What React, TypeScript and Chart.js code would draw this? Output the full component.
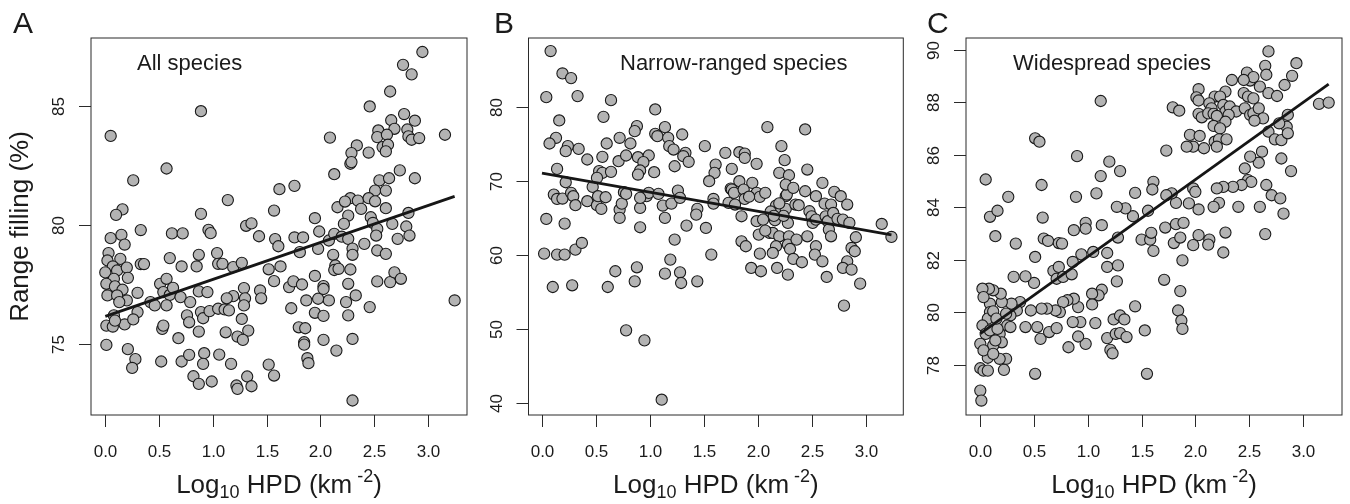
import React, { useEffect, useRef } from "react";
import { Chart, registerables } from "chart.js";

Chart.register(...registerables);

// ---------- data ----------
const xTickValues = [0, 0.5, 1, 1.5, 2, 2.5, 3];
const xTickLabels = ["0.0", "0.5", "1.0", "1.5", "2.0", "2.5", "3.0"];

const yTicksA = [75, 80, 85];
const yTicksB = [40, 50, 60, 70, 80];
const yTicksC = [78, 80, 82, 84, 86, 88, 90];

const panelTitles = ["All species", "Narrow-ranged species", "Widespread species"];
const panelLetters = ["A", "B", "C"];

// regression lines: [x, y] end points
const fitA: [number, number][] = [[0.0, 76.15], [3.25, 81.2]];
const fitB: [number, number][] = [[0.0, 71.08], [3.24, 62.73]];
const fitC: [number, number][] = [[0.0, 79.19], [3.24, 88.69]];

const allSpecies: [number, number][] = [
  [0.89,84.78],[0.05,83.74],[2.09,83.67],[0.57,82.37],[0.26,81.87],[2.13,82.13],[1.76,81.64],[1.62,81.50],[1.14,81.04],[1.57,80.60],[0.16,80.65],[0.10,80.42],[0.89,80.46],[2.16,80.74],[1.95,80.28],[1.31,79.96],[1.36,80.06],[0.33,79.78],[0.05,79.44],[0.15,79.58],[0.18,79.17],[0.62,79.64],[0.72,79.64],[0.96,79.79],[0.98,79.65],[1.43,79.52],[1.58,79.40],[1.61,79.10],[1.76,79.47],[1.84,79.47],[1.99,79.72],[1.81,78.85],[1.98,78.99],[2.08,79.34],[2.13,79.62],[2.12,78.74],[2.14,78.29],[2.13,78.10],
  [0.03,78.81],[0.02,78.50],[0.14,78.57],[0.07,78.25],[0.00,78.00],[0.11,78.08],[0.20,78.20],[0.21,77.77],[0.08,77.73],[0.01,77.52],[0.09,77.41],[0.16,77.27],[0.02,77.03],[0.11,77.03],[0.20,76.82],[0.13,76.75],[0.30,77.14],[0.08,76.19],[0.01,75.76],[0.07,75.72],[0.18,75.81],[0.09,75.97],[0.01,74.95],[0.21,74.77],[0.28,74.35],[0.25,73.98],[0.30,76.33],[0.26,76.02],[0.33,78.35],[0.36,78.35],
  [0.42,76.75],[0.46,76.61],[0.51,77.52],[0.57,77.73],[0.54,77.17],[0.60,77.05],[0.63,77.35],[0.57,76.61],[0.60,78.60],[0.71,78.25],[0.70,76.96],[0.79,76.75],[0.85,78.25],[0.87,78.74],[0.87,77.20],[0.95,77.17],[0.89,76.33],[0.91,76.07],[0.76,76.19],[0.78,75.90],[0.68,75.23],[0.53,75.62],[0.54,75.76],[0.87,75.51],[0.52,74.25],[0.71,74.25],[0.78,74.53],[0.92,74.60],[0.91,74.15],[0.82,73.63],[0.87,73.31],[0.99,73.41],[1.06,74.54],[1.17,74.15],
  [1.04,78.81],[1.05,78.36],[1.09,78.36],[1.19,78.22],[1.27,78.40],[0.97,76.37],[1.05,76.47],[1.11,76.44],[1.15,76.40],[1.19,77.00],[1.29,77.34],[1.30,76.91],[1.29,76.61],[1.13,76.91],[1.27,76.04],[1.33,75.55],[1.12,75.48],[1.23,75.30],[1.28,75.16],[1.22,73.24],[1.23,73.10],[1.32,73.62],[1.36,73.21],[1.44,77.24],[1.45,76.91],[1.52,78.13],[1.57,77.63],[1.63,78.25],[1.52,74.12],[1.57,73.66],
  [1.71,77.38],[1.75,77.62],[1.83,77.49],[1.73,76.49],[1.87,76.82],[1.98,76.89],[1.95,77.85],[2.03,77.42],[2.03,77.30],[1.95,76.30],[2.03,76.17],[2.08,76.82],[1.80,75.69],[1.86,75.65],[1.85,75.06],[1.85,74.96],[1.88,74.39],[1.89,74.18],[2.03,75.16],[2.15,74.71],
  [2.95,87.27],[2.77,86.73],[2.85,86.33],[2.65,85.61],[2.46,84.98],[2.78,84.66],[2.66,84.40],[2.88,84.38],[2.54,83.97],[2.69,84.04],[2.81,84.01],[2.53,83.69],[2.62,83.79],[2.82,83.72],[2.85,83.58],[2.92,83.65],[3.16,83.79],[2.34,83.34],[2.29,83.02],[2.45,83.04],[2.58,83.27],[2.63,83.37],[2.61,83.09],[2.28,82.57],[2.29,82.64],[2.55,81.87],[2.64,81.96],[2.74,82.29],[2.88,81.96],[2.51,81.44],[2.61,81.44],[2.28,81.12],[2.23,80.98],[2.35,81.02],[2.45,81.12],[2.51,80.99],[2.38,80.67],
  [2.26,80.39],[2.47,80.32],[2.61,80.70],[2.82,80.50],[2.22,80.04],[2.49,80.08],[2.53,79.83],[2.67,80.04],[2.80,79.93],[2.52,79.55],[2.83,79.55],[2.72,79.41],[2.20,79.50],[2.26,79.41],[2.41,79.20],[2.30,79.00],[2.30,78.74],[2.53,78.92],[2.61,78.78],[2.17,78.15],[2.28,78.12],[2.26,77.52],[2.53,77.62],[2.65,77.59],[2.69,78.00],[2.75,77.73],[2.33,77.03],[2.24,76.75],[2.26,76.19],[2.46,76.54],[3.25,76.82],[2.30,75.20],[2.30,72.61],
];

const narrowRanged: [number, number][] = [
  [0.08,87.63],[0.19,84.60],[0.27,83.97],[0.04,81.39],[0.33,81.53],[0.64,80.98],[1.05,79.72],[0.57,78.72],[0.16,78.23],[0.88,77.46],[0.86,76.78],[1.14,77.32],[2.09,77.32],[2.44,77.01],[1.30,76.33],[1.05,76.42],[1.07,76.10],[1.17,75.88],[0.72,75.88],[0.13,75.88],[0.07,75.11],[0.24,74.75],[0.22,74.07],[0.34,74.38],[0.60,75.11],[0.82,75.11],[1.18,74.75],[1.22,74.29],[1.51,74.75],[2.22,74.75],
  [0.42,72.94],[0.56,73.30],[0.71,72.71],[0.78,73.48],[0.89,73.25],[0.99,73.48],[0.94,72.58],[1.23,72.03],[1.33,73.84],[1.31,73.39],[1.36,72.62],[1.70,73.84],[1.83,73.93],[1.88,73.75],[1.88,73.16],[1.99,72.35],[2.25,72.85],[0.14,71.67],[0.53,71.36],[0.56,71.13],[0.64,71.27],[0.91,71.45],[0.89,70.90],[1.04,71.22],[1.61,72.26],[1.60,71.13],[1.76,71.67],[2.20,71.13],[2.29,70.81],[2.46,71.58],
  [0.22,69.86],[0.47,69.23],[0.51,70.45],[1.95,69.77],[1.83,70.00],[2.60,69.77],[1.55,70.00],[0.11,68.19],[0.14,67.60],[0.19,67.65],[0.27,68.42],[0.29,67.97],[0.31,66.75],[0.42,67.29],[0.51,66.75],[0.55,66.25],[0.52,67.97],[0.59,67.83],[0.72,66.16],[0.72,65.03],[0.74,66.97],[0.76,68.51],[0.78,68.28],[0.91,66.38],[0.97,67.97],[0.99,68.42],[1.08,68.28],[1.12,66.70],[1.14,65.03],[1.20,66.97],[1.26,68.73],[1.28,67.74],[1.34,63.99],[1.44,66.25],[1.43,65.48],[1.52,63.67],[1.57,60.06],[1.59,67.60],[1.59,66.97],
  [1.73,67.06],[1.75,69.00],[1.76,68.87],[1.78,68.42],[1.79,66.84],[1.85,65.25],[1.87,68.87],[1.88,67.60],[1.99,68.42],[2.02,67.88],[2.07,68.42],[1.99,64.58],[2.01,62.77],[2.05,64.80],[2.17,66.70],[2.20,65.70],[2.26,67.97],[2.27,68.19],[2.16,64.71],[2.26,69.55],[2.33,69.10],[2.26,66.25],[2.28,64.35],[2.35,66.84],[2.38,66.75],[2.44,68.64],[2.54,67.97],[2.48,65.93],[2.50,65.25],[2.51,64.35],[2.54,64.80],[2.62,66.97],[2.63,65.25],[2.65,64.58],[2.71,68.55],[2.68,66.84],[2.70,65.70],[2.77,67.97],[2.83,66.84],[2.74,64.90],[2.79,64.80],[2.85,64.35],[2.66,63.45],[2.68,62.54],[3.15,64.21],[3.24,62.45],
  [2.11,62.99],[2.14,62.99],[2.20,62.54],[2.29,62.54],[2.28,61.41],[2.30,60.82],[2.17,61.19],[2.46,62.54],[2.54,61.19],[2.33,59.47],[2.41,59.02],[2.53,60.06],[2.60,59.15],[2.91,62.41],[2.87,60.96],[2.90,60.51],[2.83,59.15],[2.79,58.25],[2.87,58.02],[2.95,56.12],[2.64,57.03],[2.80,53.14],[2.14,60.28],[2.02,60.19],[1.94,58.25],[2.03,57.80],[2.18,58.25],[2.28,57.34],[1.85,61.86],[1.89,61.19],
  [0.04,64.89],[0.21,64.26],[0.02,60.19],[0.14,60.06],[0.21,60.06],[0.31,60.73],[0.37,61.64],[0.10,55.67],[0.28,55.90],[0.61,55.67],[0.68,57.80],[0.88,58.34],[0.86,56.44],[0.91,63.76],[0.78,49.80],[0.95,48.44],[1.11,40.40],[1.19,59.38],[1.23,62.09],[1.14,57.48],[1.28,57.66],[1.29,56.21],[1.44,56.44],[2.36,62.09],
  [2.20,67.00],[2.24,65.30],[2.12,65.90],[0.91,67.74],[1.92,67.90],[2.07,63.30],[2.15,65.30],
];

const widespread: [number, number][] = [
  [2.68,89.94],[2.94,89.49],[2.65,89.39],[2.66,89.05],[2.90,89.01],[2.48,89.13],[2.51,88.83],[2.54,88.96],[2.34,88.85],[2.45,88.85],[2.60,88.60],[2.83,88.66],[2.28,88.41],[2.03,88.50],[2.18,88.22],[2.23,88.22],[2.45,88.35],[2.49,88.22],[2.54,88.15],[2.68,88.35],[2.76,88.24],[1.12,88.05],[2.01,88.19],[2.03,88.07],[2.13,87.96],[2.15,87.77],[3.15,87.94],[3.24,87.99],[1.79,87.81],[1.85,87.68],
  [2.26,87.90],[2.28,87.65],[2.32,87.84],[2.38,87.65],[2.46,87.77],[2.51,87.52],[2.54,87.58],[2.59,87.77],[2.63,87.39],[2.55,87.30],[2.03,87.56],[2.06,87.43],[2.12,87.58],[2.17,87.56],[2.20,87.48],[2.31,87.52],[2.28,87.26],[2.17,87.10],[2.23,87.01],[2.86,87.52],[2.85,87.07],[2.78,87.20],[2.68,86.88],[2.74,86.59],[2.80,86.56],[2.86,86.82],
  [1.95,86.76],[1.98,86.31],[2.04,86.72],[1.92,86.31],[2.08,86.25],[2.18,86.50],[2.22,86.59],[2.29,86.59],[2.20,86.31],[1.73,86.16],[2.62,86.12],[2.59,85.70],[2.51,85.93],[2.80,85.86],[2.89,85.38],[2.46,85.48],[2.49,85.04],[2.52,84.97],[2.43,84.85],[2.35,84.78],[2.26,84.78],[2.20,84.72],[2.66,84.85],[2.71,84.46],[2.79,84.34],[2.60,84.02],[2.82,83.76],[2.65,82.98],[2.40,84.02],[2.22,84.17],[2.17,84.02],
  [1.98,84.72],[2.00,84.59],[1.94,84.15],[2.03,83.92],[1.82,84.17],[1.78,84.53],[1.73,84.46],[1.61,84.97],[1.60,84.68],[1.56,83.87],[1.44,84.55],[1.42,83.66],[1.35,83.96],[1.27,84.02],[1.12,85.19],[1.20,85.74],[1.30,85.38],[1.08,84.53],[0.90,85.95],[0.89,84.40],[0.51,86.63],[0.55,86.50],[0.57,84.85],[0.58,83.61],[0.59,82.81],[0.63,82.72],[0.51,82.11],[0.50,81.12],
  [0.05,85.06],[0.09,83.64],[0.16,83.87],[0.26,84.40],[0.14,82.90],[0.33,82.62],[0.31,81.35],[0.42,81.37],[0.87,83.13],[0.98,83.41],[0.98,83.19],[1.13,83.32],[0.94,82.21],[1.05,82.30],[1.18,82.26],[1.28,82.85],[0.86,81.92],[0.73,82.64],[0.76,82.62],[0.68,81.58],[0.73,81.73],[0.71,81.28],[0.77,81.35],[0.85,81.45],[1.18,81.73],[1.28,81.79],[1.27,81.18],
  [1.50,82.77],[1.58,82.77],[1.59,83.03],[1.61,82.34],[1.72,83.23],[1.82,83.36],[1.89,83.41],[1.80,82.64],[1.86,82.85],[1.88,81.98],[1.98,82.56],[2.03,82.94],[2.13,82.77],[2.12,82.58],[2.28,83.04],[2.26,82.28],[1.71,81.24],[1.86,80.81],[1.84,80.07],[1.87,79.69],[1.88,79.37],[1.44,80.23],[1.53,79.31],[1.55,77.66],
  [1.13,80.86],[1.10,80.65],[1.04,80.71],[1.04,80.30],[1.07,79.59],[1.18,79.02],[1.21,78.57],[1.23,78.44],[1.24,79.73],[1.30,79.88],[1.34,79.73],[1.26,79.18],[1.30,79.21],[1.36,79.06],[0.98,78.80],[0.91,79.08],[0.82,78.67],[0.93,79.63],[0.86,79.63],[0.91,80.20],[0.87,80.52],[0.81,80.46],[0.77,80.39],[0.74,80.01],[0.70,80.07],[0.62,80.14],[0.57,80.14],[0.47,80.07],[0.53,79.44],[0.56,78.99],[0.64,79.25],[0.71,79.40],[0.51,77.66],[0.42,79.44],
  [0.37,80.39],[0.34,80.07],[0.29,80.33],[0.28,79.88],[0.25,79.50],[0.20,80.39],[0.19,80.71],[0.18,79.18],[0.20,78.86],[0.24,78.23],[0.22,77.81],[0.12,78.74],[0.07,78.27],[0.09,80.33],[0.09,80.01],[0.12,80.84],[0.08,80.90],[0.02,80.90],[0.03,80.58],[0.07,79.76],[0.02,79.50],[0.05,79.18],[0.09,79.31],[0.16,79.37],[0.14,78.93],[0.00,78.80],[0.03,78.55],[0.00,77.87],[0.03,77.78],[0.07,77.78],[0.00,77.02],[0.01,76.64],
  [0.12,80.04],[0.15,79.76],[0.24,79.95],[0.28,79.44],[0.18,78.23],[0.12,78.42],
];

// ---------- layout ----------
const FONT = '"Liberation Sans", Arial, Helvetica, sans-serif';
const TEXT = "#1b1b1b";
const BOX_TOP = 38;
const BOX_BOTTOM = 415;
const PAGE_H = 504;

type PanelCfg = {
  left: number;
  width: number;
  boxLeft: number;
  boxRight: number;
  xMin: number;
  xMax: number;
  yMin: number;
  yMax: number;
  yTicks: number[];
  points: [number, number][];
  fit: [number, number][];
  letter: string;
  letterX: number;
  title: string;
  titleX: number;
  yTitle: boolean;
};

const panels: PanelCfg[] = [
  { left: 0, width: 480, boxLeft: 91, boxRight: 467, xMin: -0.133, xMax: 3.365, yMin: 72.0, yMax: 87.86, yTicks: yTicksA, points: allSpecies, fit: fitA, letter: panelLetters[0], letterX: 13, title: panelTitles[0], titleX: 137, yTitle: true },
  { left: 480, width: 430, boxLeft: 528.5, boxRight: 904, xMin: -0.125, xMax: 3.35, yMin: 38.33, yMax: 89.4, yTicks: yTicksB, points: narrowRanged, fit: fitB, letter: panelLetters[1], letterX: 494, title: panelTitles[1], titleX: 620, yTitle: false },
  { left: 910, width: 440, boxLeft: 966, boxRight: 1342, xMin: -0.133, xMax: 3.364, yMin: 76.09, yMax: 90.45, yTicks: yTicksC, points: widespread, fit: fitC, letter: panelLetters[2], letterX: 927, title: panelTitles[2], titleX: 1013, yTitle: false },
];

function decorPlugin(cfg: PanelCfg) {
  return {
    id: "decor" + cfg.letter,
    afterDraw(chart: any) {
      const { ctx, chartArea: a, scales } = chart;
      const xs = scales.x;
      const ys = scales.y;
      const off = cfg.left;
      ctx.save();
      // box
      ctx.strokeStyle = "#2a2a2a";
      ctx.lineWidth = 1;
      ctx.strokeRect(a.left, a.top, a.right - a.left, a.bottom - a.top);

      ctx.fillStyle = TEXT;
      // x ticks
      ctx.font = `17px ${FONT}`;
      ctx.textAlign = "center";
      ctx.textBaseline = "alphabetic";
      xTickValues.forEach((v, i) => {
        const px = Math.round(xs.getPixelForValue(v)) + 0.5;
        ctx.beginPath();
        ctx.moveTo(px, a.bottom);
        ctx.lineTo(px, a.bottom + 12);
        ctx.stroke();
        ctx.fillText(xTickLabels[i], px, 457);
      });
      // y ticks
      cfg.yTicks.forEach((v) => {
        const py = Math.round(ys.getPixelForValue(v)) + 0.5;
        ctx.beginPath();
        ctx.moveTo(a.left, py);
        ctx.lineTo(a.left - 12, py);
        ctx.stroke();
        ctx.save();
        ctx.translate(a.left - 27, py);
        ctx.rotate(-Math.PI / 2);
        ctx.fillText(String(v), 0, 0);
        ctx.restore();
      });

      // panel letter
      ctx.textAlign = "left";
      ctx.font = `30px ${FONT}`;
      ctx.fillText(cfg.letter, cfg.letterX - off, 33);

      // panel title
      ctx.font = `22px ${FONT}`;
      ctx.fillText(cfg.title, cfg.titleX - off, 70);

      // x axis title with sub/superscript
      const segs = [
        { t: "Log", s: 26, dy: 0 },
        { t: "10", s: 18, dy: 5 },
        { t: " HPD (km", s: 26, dy: 0 },
        { t: " -2", s: 18, dy: -11 },
        { t: ")", s: 26, dy: 0 },
      ];
      let total = 0;
      segs.forEach((g) => {
        ctx.font = `${g.s}px ${FONT}`;
        total += ctx.measureText(g.t).width;
      });
      let cx = (a.left + a.right) / 2 - total / 2;
      segs.forEach((g) => {
        ctx.font = `${g.s}px ${FONT}`;
        ctx.fillText(g.t, cx, 493 + g.dy);
        cx += ctx.measureText(g.t).width;
      });

      // y axis title
      if (cfg.yTitle) {
        ctx.save();
        ctx.translate(28 - off, (a.top + a.bottom) / 2);
        ctx.rotate(-Math.PI / 2);
        ctx.textAlign = "center";
        ctx.font = `26px ${FONT}`;
        ctx.fillText("Range filling (%)", 0, 0);
        ctx.restore();
      }
      ctx.restore();
    },
  };
}

function Panel({ cfg }: { cfg: PanelCfg }) {
  const ref = useRef<HTMLCanvasElement | null>(null);
  useEffect(() => {
    if (!ref.current) return;
    const chart = new Chart(ref.current, {
      type: "scatter",
      data: {
        datasets: [
          {
            type: "line",
            data: cfg.fit.map(([x, y]) => ({ x, y })),
            borderColor: "#161616",
            borderWidth: 2.8,
            pointRadius: 0,
            fill: false,
            tension: 0,
            order: 0,
          } as any,
          {
            type: "scatter",
            data: cfg.points.map(([x, y]) => ({ x, y })),
            backgroundColor: "#b3b3b3",
            borderColor: "#1a1a1a",
            borderWidth: 1.1,
            pointRadius: 5.6,
            order: 1,
          } as any,
        ],
      },
      options: {
        responsive: false,
        animation: false,
        events: [],
        layout: {
          padding: {
            left: cfg.boxLeft - cfg.left,
            right: cfg.left + cfg.width - cfg.boxRight,
            top: BOX_TOP,
            bottom: PAGE_H - BOX_BOTTOM,
          },
        },
        plugins: { legend: { display: false }, tooltip: { enabled: false } },
        scales: {
          x: { type: "linear", display: false, min: cfg.xMin, max: cfg.xMax },
          y: { type: "linear", display: false, min: cfg.yMin, max: cfg.yMax },
        },
      },
      plugins: [decorPlugin(cfg)],
    });
    return () => chart.destroy();
  }, [cfg]);
  return (
    <canvas
      ref={ref}
      width={cfg.width}
      height={PAGE_H}
      style={{ position: "absolute", left: cfg.left, top: 0, width: cfg.width, height: PAGE_H }}
    />
  );
}

export default function App() {
  return (
    <div style={{ position: "absolute", left: 0, top: 0, width: 1350, height: PAGE_H, background: "#fff", overflow: "hidden" }}>
      {panels.map((p) => (
        <Panel key={p.letter} cfg={p} />
      ))}
    </div>
  );
}
